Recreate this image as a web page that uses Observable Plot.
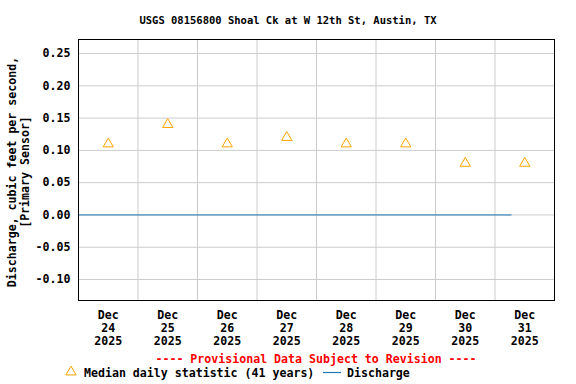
<!DOCTYPE html>
<html><head><meta charset="utf-8">
<script src="https://cdn.jsdelivr.net/npm/d3@7"></script>
<script src="https://cdn.jsdelivr.net/npm/@observablehq/plot@0.6"></script>
<style>
body{margin:0;background:#fff;}
#wrap{position:relative;width:576px;height:384px;font-family:"DejaVu Sans Mono",monospace;font-weight:bold;color:#000;}
#wrap > svg{position:absolute;left:0;top:0;}
.abs{position:absolute;white-space:pre;line-height:13px;}
</style></head><body><div id="wrap"></div>
<script>
// Data
const days = ["2025-12-24","2025-12-25","2025-12-26","2025-12-27","2025-12-28","2025-12-29","2025-12-30","2025-12-31"];
const medianValues = [0.11, 0.14, 0.11, 0.12, 0.11, 0.11, 0.08, 0.08];
const dischargeTimes = ["2025-12-24T00:00:00Z", "2025-12-31T06:30:00Z"];
const dischargeValues = [0, 0];
const yTicks = [-0.10, -0.05, 0.00, 0.05, 0.10, 0.15, 0.20, 0.25];
const monthLabel = "Dec";
const title = "USGS 08156800 Shoal Ck at W 12th St, Austin, TX";
const yLabelLines = ["Discharge, cubic feet per second,", "[Primary Sensor]"];
const provisional = "---- Provisional Data Subject to Revision ----";
const legendMedian = "Median daily statistic (41 years)";
const legendDischarge = "Discharge";

const noon = days.map(d => new Date(d + "T12:00:00Z"));
const midnights = days.slice(1).map(d => new Date(d + "T00:00:00Z"));
const median = days.map((d, i) => ({date: noon[i], value: medianValues[i]}));
const discharge = dischargeTimes.map((t, i) => ({time: new Date(t), value: dischargeValues[i]}));

const chart = Plot.plot({
  width: 576, height: 384,
  marginTop: 39, marginBottom: 84, marginLeft: 78, marginRight: 22,
  style: {fontFamily: '"DejaVu Sans Mono", monospace', fontSize: "11.6px", fontWeight: "bold", color: "#000", background: "transparent"},
  x: {type: "utc", domain: [new Date("2025-12-24T00:00:00Z"), new Date("2026-01-01T00:00:00Z")]},
  y: {domain: [-0.1325, 0.2717]},
  marks: [
    Plot.gridY(yTicks, {stroke: "#cccccc", strokeOpacity: 1}),
    Plot.gridX(midnights, {stroke: "#cccccc", strokeOpacity: 1}),
    Plot.line(discharge, {x: "time", y: "value", stroke: "#1f77b4", strokeWidth: 1}),
    Plot.dot(median, {x: "date", y: "value", symbol: "triangle", r: 3.8, stroke: "#FFA500", fill: "none", strokeWidth: 1}),
    Plot.axisY(yTicks, {tickSize: 0, tickPadding: 8, tickFormat: d => d.toFixed(2), label: null}),
    Plot.axisX(noon, {tickSize: 0, tickPadding: 9, lineHeight: 1.12,
      tickFormat: d => `${monthLabel}\n${d.getUTCDate()}\n${d.getUTCFullYear()}`, label: null}),
    Plot.frame({stroke: "#000"})
  ]
});

const wrap = document.getElementById("wrap");
wrap.appendChild(chart);

function addDiv(text, css) {
  const el = document.createElement("div");
  el.className = "abs";
  el.textContent = text;
  Object.assign(el.style, css);
  wrap.appendChild(el);
  return el;
}
addDiv(title, {left: "0px", width: "576px", top: "14px", textAlign: "center", fontSize: "10.5px"});
addDiv(yLabelLines.join("\n"), {left: "-111px", width: "260px", top: "159px", textAlign: "center", fontSize: "11.6px", transform: "rotate(-90deg)", transformOrigin: "130px 13px"});
addDiv(provisional, {left: "78px", width: "476px", top: "353px", textAlign: "center", fontSize: "11.6px", color: "#ff0000"});
addDiv(legendMedian, {left: "84px", top: "367px", fontSize: "11.6px"});
addDiv(legendDischarge, {left: "347px", top: "367px", fontSize: "11.6px"});

// legend glyphs
const ns = "http://www.w3.org/2000/svg";
const lg = document.createElementNS(ns, "svg");
lg.setAttribute("width", 576); lg.setAttribute("height", 384);
lg.style.position = "absolute"; lg.style.left = "0"; lg.style.top = "0"; lg.style.pointerEvents = "none";
lg.innerHTML = `<path d="${d3.symbol(d3.symbolTriangle, 45)()}" transform="translate(71,372)" fill="none" stroke="#FFA500" stroke-width="1"/>
<line x1="323" x2="341" y1="372.5" y2="372.5" stroke="#1f77b4" stroke-width="1.2"/>`;
wrap.appendChild(lg);
</script>
</body></html>
